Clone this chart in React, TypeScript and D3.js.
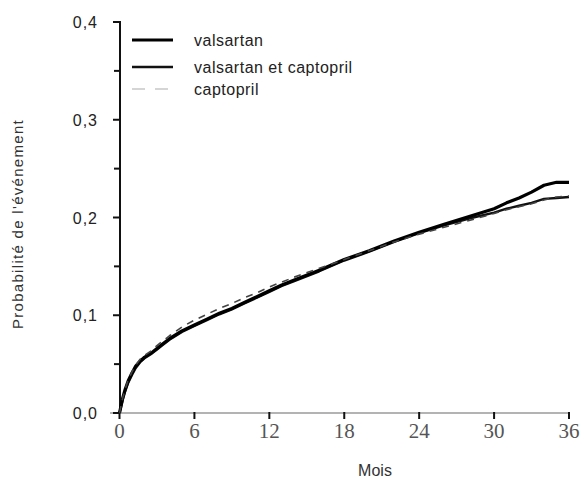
import React from "react";
import * as d3 from "d3";

const WIDTH = 584;
const HEIGHT = 479;

// mois (abscisse commune aux trois courbes)
const months = [
  0, 0.1, 0.25, 0.45, 0.7, 1, 1.3, 1.65, 2, 2.6, 3, 3.4, 4, 5, 6, 7, 8, 9, 10, 11, 12, 13, 14,
  16, 18, 20, 22, 24, 26, 28, 30, 31, 32, 33, 34, 35, 36,
];

const valsartan = [
  0, 0.006, 0.015, 0.024, 0.033, 0.041, 0.048, 0.053, 0.057, 0.062, 0.066, 0.07, 0.076, 0.084,
  0.09, 0.096, 0.102, 0.107, 0.113, 0.119, 0.125, 0.131, 0.136, 0.146, 0.157, 0.166, 0.176,
  0.185, 0.193, 0.201, 0.209, 0.215, 0.22, 0.226, 0.233, 0.236, 0.236,
];

const valsartanCaptopril = [
  0, 0.005, 0.013, 0.022, 0.031, 0.039, 0.046, 0.052, 0.056, 0.061, 0.065, 0.069, 0.075, 0.083,
  0.089, 0.095, 0.101, 0.106, 0.112, 0.118, 0.124, 0.13, 0.135, 0.145, 0.156, 0.165, 0.175,
  0.184, 0.192, 0.199, 0.205, 0.209, 0.212, 0.215, 0.219, 0.22, 0.221,
];

const captopril = [
  0, 0.006, 0.015, 0.024, 0.034, 0.042, 0.049, 0.055, 0.059, 0.064, 0.069, 0.073, 0.079, 0.088,
  0.095, 0.101, 0.107, 0.112, 0.118, 0.123, 0.129, 0.134, 0.139, 0.148, 0.157, 0.166, 0.175,
  0.183, 0.19, 0.197, 0.204, 0.208, 0.211, 0.214, 0.218, 0.221, 0.222,
];

const seriesNames = ["valsartan", "valsartan et captopril", "captopril"];
const xTicks = [0, 6, 12, 18, 24, 30, 36];
const yTicks = [0, 0.1, 0.2, 0.3, 0.4];
const yTickLabels = ["0,0", "0,1", "0,2", "0,3", "0,4"];
const yMinorTicks = [0.05, 0.15, 0.25, 0.35];

const SERIES = [
  { name: seriesNames[1], values: valsartanCaptopril, color: "#111", legendColor: "#111", width: 2.4, dash: "" },
  { name: seriesNames[0], values: valsartan, color: "#000", legendColor: "#000", width: 3.2, dash: "" },
  { name: seriesNames[2], values: captopril, color: "#444", legendColor: "#c8c8c8", width: 1.6, dash: "7,6" },
];

export default function App() {
  const x = d3.scaleLinear().domain([0, 36]).range([119.5, 569]);
  const y = d3.scaleLinear().domain([0, 0.4]).range([413, 22]);

  const line = d3
    .line<number>()
    .x((_, i) => x(months[i]))
    .y((d) => y(d));

  const sans = "'Liberation Sans', Arial, sans-serif";

  return (
    <svg
      width={WIDTH}
      height={HEIGHT}
      style={{ position: "absolute", left: 0, top: 0, background: "#fff" }}
    >
      {/* axe des x */}
      <line x1={110} x2={570} y1={y(0)} y2={y(0)} stroke="#9a9a9a" strokeWidth={1.5} />
      {xTicks.map((t) => (
        <g key={t}>
          <line x1={x(t)} x2={x(t)} y1={y(0) - 1} y2={y(0) + 6} stroke="#111" strokeWidth={2} />
          <text
            x={x(t)}
            y={438}
            textAnchor="middle"
            fontFamily="'Liberation Serif', 'Times New Roman', serif"
            fontSize={21}
            fill="#555"
          >
            {t}
          </text>
        </g>
      ))}

      {/* axe des y */}
      <line x1={120} x2={120} y1={y(0.4) - 1} y2={y(0)} stroke="#111" strokeWidth={2} />
      {yTicks.map((t, i) => (
        <g key={t}>
          <line x1={113} x2={120} y1={y(t)} y2={y(t)} stroke="#111" strokeWidth={2} />
          <text
            x={98}
            y={y(t) + 6}
            textAnchor="end"
            fontFamily={sans}
            fontSize={16}
            letterSpacing={1}
            fill="#222"
          >
            {yTickLabels[i]}
          </text>
        </g>
      ))}
      {yMinorTicks.map((t) => (
        <line key={t} x1={114} x2={120} y1={y(t)} y2={y(t)} stroke="#111" strokeWidth={2} />
      ))}

      {/* titres */}
      <text
        transform={`translate(23, 224) rotate(-90)`}
        textAnchor="middle"
        fontFamily={sans}
        fontSize={15}
        letterSpacing={1.3}
        fill="#333"
      >
        Probabilité de l'événement
      </text>
      <text x={375} y={476} textAnchor="middle" fontFamily={sans} fontSize={16} fill="#333">
        Mois
      </text>

      {/* courbes */}
      {SERIES.map((s) => (
        <path
          key={s.name}
          d={line(s.values) || ""}
          fill="none"
          stroke={s.color}
          strokeWidth={s.width}
          strokeDasharray={s.dash}
          strokeLinejoin="round"
        />
      ))}

      {/* légende */}
      {seriesNames.map((name, i) => {
        const s = SERIES.find((d) => d.name === name)!;
        const ly = [40, 67, 89][i];
        return (
          <g key={name}>
            <line
              x1={132}
              x2={173}
              y1={ly}
              y2={ly}
              stroke={s.legendColor}
              strokeWidth={s.width}
              strokeDasharray={s.dash ? "13,10" : ""}
            />
            <text
              x={194}
              y={ly + 6}
              fontFamily={sans}
              fontSize={16}
              letterSpacing={0.5}
              fill="#222"
            >
              {name}
            </text>
          </g>
        );
      })}
    </svg>
  );
}
